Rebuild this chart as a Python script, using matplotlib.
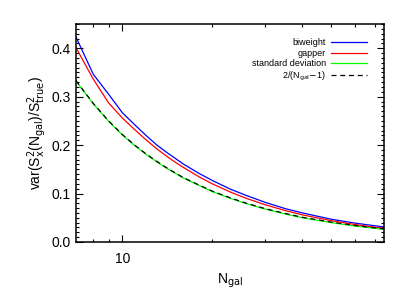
import numpy as np
import matplotlib
matplotlib.use("Agg")
import matplotlib.pyplot as plt
from matplotlib.ticker import MultipleLocator, NullFormatter

# number of galaxies
n_gal = [7, 8, 9, 10, 11, 12, 13, 14, 15, 16, 18, 20, 23, 26, 30, 35, 40, 50, 60, 75]

biweight = [0.423, 0.346, 0.305, 0.267, 0.242, 0.220, 0.201, 0.186, 0.173, 0.161,
            0.142, 0.127, 0.109, 0.096, 0.082, 0.069, 0.060, 0.047, 0.039, 0.031]
gapper = [0.401, 0.336, 0.287, 0.256, 0.232, 0.211, 0.193, 0.178, 0.165, 0.154,
          0.135, 0.120, 0.103, 0.090, 0.077, 0.065, 0.056, 0.044, 0.036, 0.028]
std_dev = [0.332, 0.285, 0.249, 0.221, 0.199, 0.181, 0.166, 0.153, 0.142, 0.132,
           0.117, 0.104, 0.090, 0.079, 0.068, 0.058, 0.050, 0.040, 0.033, 0.026]
theory = [0.333, 0.286, 0.250, 0.222, 0.200, 0.182, 0.167, 0.154, 0.143, 0.133,
          0.118, 0.105, 0.091, 0.080, 0.069, 0.059, 0.051, 0.041, 0.034, 0.027]

xmajor = [10]
xminor = [8, 9, 20, 30, 40, 50, 60, 70]

plt.rcParams['font.family'] = ['Liberation Sans', 'DejaVu Sans']

fig = plt.figure(figsize=(4.07, 2.91), dpi=100)
ax = fig.add_axes([0.1867, 0.1684, 0.7568, 0.7491])

lw = 0.9
ax.plot(n_gal, biweight, color=(0, 0, 1), lw=lw, label='biweight')
ax.plot(n_gal, gapper, color=(1, 0, 0), lw=lw, label='gapper')
ax.plot(n_gal, std_dev, color=(0, 1, 0), lw=lw, label='standard deviation')
ax.plot(n_gal, theory, color='black', lw=lw, ls=(0, (4, 3)),
        label=r'2/(N$_{\rm gal}$$-$1)')

ax.set_xscale('log')
ax.set_xlim(7, 75)
ax.set_ylim(0, 0.45)

ax.set_xticks(xmajor)
ax.set_xticklabels([str(v) for v in xmajor])
ax.set_xticks(xminor, minor=True)
ax.xaxis.set_minor_formatter(NullFormatter())
ax.yaxis.set_major_locator(MultipleLocator(0.1))
ax.yaxis.set_minor_locator(MultipleLocator(0.01))
ax.yaxis.set_major_formatter(plt.FormatStrFormatter('%.1f'))

ax.tick_params(which='both', direction='in', top=True, right=True,
               labelsize=10, width=0.8)
ax.tick_params(which='major', length=5, pad=4)
ax.tick_params(axis='x', which='major', pad=7)
ax.tick_params(which='minor', length=2.5)
for s in ax.spines.values():
    s.set_linewidth(1.1)

ax.set_xlabel(r'N$_{\rm gal}$', fontsize=10, labelpad=4)
ax.set_ylabel(r'var(S$^2_{\rm x}$(N$_{\rm gal}$)/S$^2_{\rm true}$)', fontsize=10,
              labelpad=2)

ax.legend(loc='upper right', bbox_to_anchor=(0.975, 0.975), frameon=False,
          markerfirst=False, fontsize=6.5, handlelength=4.0, labelspacing=0.15,
          handletextpad=0.6, borderaxespad=0.6)

fig.savefig('out.png', dpi=100)
